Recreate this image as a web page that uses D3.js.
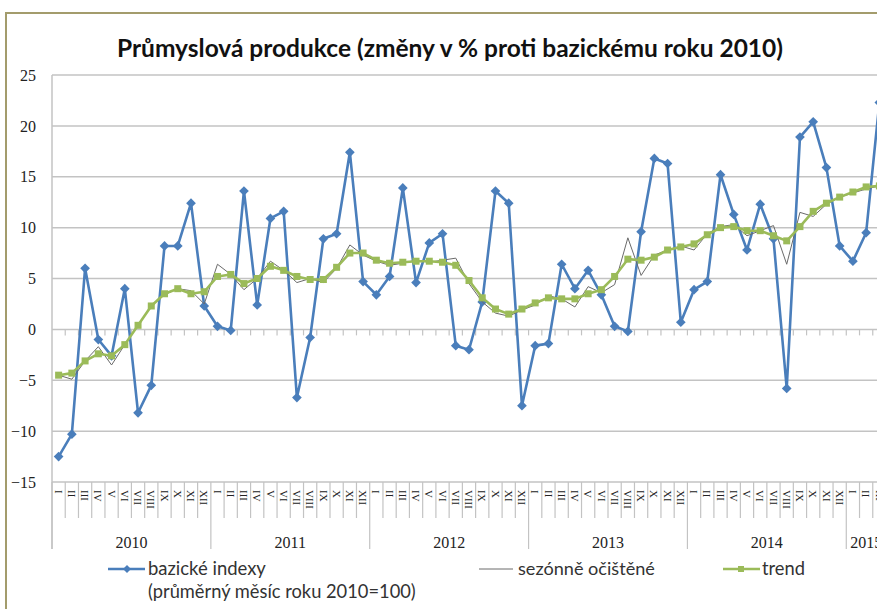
<!DOCTYPE html>
<html>
<head>
<meta charset="utf-8">
<script src="https://cdn.jsdelivr.net/npm/d3@7"></script>
<style>
    body { margin: 0; background: #fff; }
    svg { display: block; }
</style>
</head>
<body>
<div id="chart"></div>
<script>

// months Jan 2010 .. Mar 2015 (63 values)
const years = [2010, 2011, 2012, 2013, 2014, 2015];
const monthLabels = ["I","II","III","IV","V","VI","VII","VIII","IX","X","XI","XII"];

const bazicke = [
    -12.5, -10.3, 6.0, -1.0, -2.6, 4.0, -8.2, -5.5, 8.2, 8.2, 12.4, 2.3,
    0.3, -0.1, 13.6, 2.4, 10.9, 11.6, -6.7, -0.8, 8.9, 9.4, 17.4, 4.7,
    3.4, 5.2, 13.9, 4.6, 8.5, 9.4, -1.6, -2.0, 2.7, 13.6, 12.4, -7.5,
    -1.6, -1.4, 6.4, 4.0, 5.8, 3.4, 0.3, -0.2, 9.6, 16.8, 16.3, 0.7,
    3.9, 4.7, 15.2, 11.3, 7.8, 12.3, 8.9, -5.8, 18.9, 20.4, 15.9, 8.2,
    6.7, 9.5, 22.3
];

const sezonne = [
    -4.5, -4.9, -3.1, -1.7, -3.5, -1.5, 0.4, 2.3, 3.4, 4.0, 3.8, 2.5,
    6.4, 5.4, 3.9, 5.0, 6.7, 5.8, 4.6, 5.0, 4.6, 6.0, 8.3, 7.3,
    6.7, 6.3, 6.5, 6.8, 6.6, 6.8, 7.0, 4.5, 2.7, 1.6, 1.3, 1.9,
    2.4, 3.3, 3.0, 2.2, 4.2, 3.6, 4.4, 9.0, 5.3, 7.3, 7.8, 8.2,
    7.8, 9.4, 10.1, 10.3, 9.2, 9.7, 10.2, 6.4, 11.5, 11.1, 12.3, 13.0,
    13.4, 13.8, 14.1
];

const trend = [
    -4.5, -4.3, -3.1, -2.4, -2.6, -1.5, 0.4, 2.3, 3.5, 4.0, 3.5, 3.7,
    5.2, 5.4, 4.5, 5.0, 6.2, 5.8, 5.2, 4.9, 4.9, 6.1, 7.5, 7.5,
    6.8, 6.5, 6.6, 6.7, 6.7, 6.6, 6.3, 4.8, 3.1, 2.0, 1.5, 2.0,
    2.6, 3.1, 3.0, 3.0, 3.5, 3.9, 5.2, 6.9, 6.8, 7.1, 7.8, 8.1,
    8.4, 9.3, 10.0, 10.1, 9.7, 9.7, 9.2, 8.7, 10.1, 11.6, 12.4, 13.0,
    13.5, 14.0, 14.1
];

const yTicks = [-15, -10, -5, 0, 5, 10, 15, 20, 25];
const titleText = "Průmyslová produkce (změny v % proti bazickému roku 2010)";

// ---------- setup ----------
const width = 877, height = 609;
const blue = "#4a7ebb", green = "#9bbb59", grey = "#6a6a6a", gridCol = "#c3c3c3";

const svg = d3.select("#chart").append("svg")
    .attr("width", width)
    .attr("height", height);

// outer chart frame (only top and left visible)
svg.append("path")
    .attr("d", "M6,609 V13 H877")
    .attr("fill", "none")
    .attr("stroke", "#a39c6c")
    .attr("stroke-width", 2);

// title
const title = svg.append("text")
    .attr("x", 450)
    .attr("y", 57)
    .attr("text-anchor", "middle")
    .style("font-family", "Lato, 'Open Sans', sans-serif")
    .style("font-weight", "bold")
    .style("font-size", "21px")
    .attr("fill", "#111")
    .text(titleText);
fitText(title, 666);

// scales
const idx = d3.range(bazicke.length);
const x = d3.scaleBand().domain(idx).range([52, 886]).padding(0);
const y = d3.scaleLinear().domain([-15, 25]).range([482, 75]);
const cx = i => x(i) + x.bandwidth() / 2;

// gridlines
svg.append("g")
    .selectAll("line")
    .data(yTicks)
    .join("line")
    .attr("x1", 52).attr("x2", 886)
    .attr("y1", d => y(d)).attr("y2", d => y(d))
    .attr("stroke", gridCol)
    .attr("stroke-width", 1.5);

// y axis (labels only)
const yAxis = svg.append("g")
    .attr("transform", "translate(52,0)")
    .call(d3.axisLeft(y).tickValues(yTicks).tickSize(0).tickPadding(16));
yAxis.select(".domain").remove();
yAxis.selectAll("text")
    .style("font-family", "'Liberation Serif', 'Times New Roman', serif")
    .style("font-size", "16px")
    .attr("fill", "#222");

// left axis line, down through the category area
svg.append("line")
    .attr("x1", 52).attr("x2", 52)
    .attr("y1", 75).attr("y2", 549)
    .attr("stroke", gridCol)
    .attr("stroke-width", 1.5);

// small tick marks on the zero line
const bounds = d3.range(bazicke.length + 1).map(i => 52 + i * x.step());
svg.append("g")
    .selectAll("line")
    .data(bounds.slice(1))
    .join("line")
    .attr("x1", d => d).attr("x2", d => d)
    .attr("y1", y(0)).attr("y2", y(0) + 6)
    .attr("stroke", gridCol)
    .attr("stroke-width", 1.2);

// month separators below the plot
svg.append("g")
    .selectAll("line")
    .data(bounds)
    .join("line")
    .attr("x1", d => d).attr("x2", d => d)
    .attr("y1", y(-15))
    .attr("y2", (d, i) => i % 12 === 0 ? 549 : 518)
    .attr("stroke", gridCol)
    .attr("stroke-width", 1.2);

// month labels (rotated roman numerals)
svg.append("g")
    .selectAll("text")
    .data(idx)
    .join("text")
    .attr("transform", i => `translate(${cx(i)},490) rotate(90)`)
    .attr("dy", "0.35em")
    .style("font-family", "'Liberation Serif', 'Times New Roman', serif")
    .style("font-size", "11px")
    .attr("fill", "#222")
    .text(i => monthLabels[i % 12]);

// year labels, centred in the months each year has on the axis
svg.append("g")
    .selectAll("text")
    .data(years)
    .join("text")
    .attr("x", (d, k) => {
        const first = k * 12;
        const last = Math.min(first + 11, bazicke.length - 1);
        return (x(first) + x(last) + x.bandwidth()) / 2;
    })
    .attr("y", 548)
    .attr("text-anchor", "middle")
    .style("font-family", "'Liberation Serif', 'Times New Roman', serif")
    .style("font-size", "16px")
    .attr("fill", "#222")
    .text(d => d);

// lines
const line = d3.line().x((d, i) => cx(i)).y(d => y(d));

svg.append("path")
    .datum(bazicke)
    .attr("d", line)
    .attr("fill", "none")
    .attr("stroke", blue)
    .attr("stroke-width", 2.6)
    .attr("stroke-linejoin", "round");

svg.append("g")
    .selectAll("path")
    .data(bazicke)
    .join("path")
    .attr("d", d3.symbol(d3.symbolDiamond2, 60))
    .attr("transform", (d, i) => `translate(${cx(i)},${y(d)})`)
    .attr("fill", blue);

svg.append("path")
    .datum(sezonne)
    .attr("d", line)
    .attr("fill", "none")
    .attr("stroke", grey)
    .attr("stroke-width", 1);

svg.append("path")
    .datum(trend)
    .attr("d", line)
    .attr("fill", "none")
    .attr("stroke", green)
    .attr("stroke-width", 2.6)
    .attr("stroke-linejoin", "round");

svg.append("g")
    .selectAll("rect")
    .data(trend)
    .join("rect")
    .attr("x", (d, i) => cx(i) - 3.5)
    .attr("y", d => y(d) - 3.5)
    .attr("width", 7).attr("height", 7)
    .attr("fill", green);

// legend
const legend = svg.append("g");
const legendFont = "Lato, 'Open Sans', sans-serif";

legend.append("line")
    .attr("x1", 108).attr("x2", 145).attr("y1", 569).attr("y2", 569)
    .attr("stroke", blue).attr("stroke-width", 2.4);
legend.append("path")
    .attr("d", d3.symbol(d3.symbolDiamond2, 40))
    .attr("transform", "translate(127,569)")
    .attr("fill", blue);

legend.append("line")
    .attr("x1", 479).attr("x2", 513).attr("y1", 569).attr("y2", 569)
    .attr("stroke", grey).attr("stroke-width", 1);

legend.append("line")
    .attr("x1", 723).attr("x2", 760).attr("y1", 569).attr("y2", 569)
    .attr("stroke", green).attr("stroke-width", 2.4);
legend.append("rect")
    .attr("x", 738).attr("y", 566).attr("width", 6).attr("height", 6)
    .attr("fill", green);

const legendItems = [
    {text: "bazické indexy", x: 148, y: 575, w: 118},
    {text: "(průměrný měsíc roku 2010=100)", x: 148, y: 598, w: 268},
    {text: "sezónně očištěné", x: 518, y: 575, w: 137},
    {text: "trend", x: 762, y: 575, w: 43}
];
legend.selectAll("text")
    .data(legendItems)
    .join("text")
    .attr("x", d => d.x)
    .attr("y", d => d.y)
    .style("font-family", legendFont)
    .style("font-size", "16px")
    .attr("fill", "#333")
    .text(d => d.text)
    .each(function(d){ fitText(d3.select(this), d.w); });

// scale a text's font size so it spans the wanted width
function fitText(sel, wanted) {
    const node = sel.node();
    const size = parseFloat(sel.style("font-size"));
    const len = node.getComputedTextLength();
    if (len > 0) sel.style("font-size", (size * wanted / len).toFixed(2) + "px");
}
</script>
</body>
</html>
